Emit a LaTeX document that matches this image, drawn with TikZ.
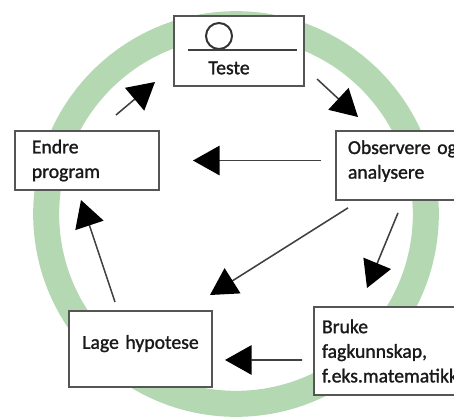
\documentclass[tikz,border=0pt]{standalone}
\usepackage{fontspec}
\setmainfont{Carlito}
\newfontfamily\boxfont{Carlito}[FakeBold=1.3]
\usetikzlibrary{arrows.meta, calc}
\definecolor{ring}{HTML}{B4D8B2}
\definecolor{boxline}{HTML}{555555}

\begin{document}
\begin{tikzpicture}[x=0.025cm, y=-0.025cm,
    box/.style={draw=boxline, line width=1.4pt, fill=white, anchor=north west, align=left, text=black!90, font=\boxfont\fontsize{14}{17.5}\selectfont},
    arr/.style={draw=black!75, line width=1.1pt, -{Triangle[length=19pt, width=21pt, color=black]}}]

      % Fix the frame
      \useasboundingbox (0,0) rectangle (454,417);
      \clip (0,0) rectangle (454,417);

      % Draw the green ring
      \draw[ring, line width=18.5pt] (236,214) circle[radius=135pt];

      % Draw the boxes
      \node[box, minimum width=92.5pt, minimum height=49.8pt] (teste) at (173,15) {};
      \node[box, text width=78.4pt, inner xsep=12pt, minimum height=42pt] (endre) at (14,130) {Endre\\program};
      \node[box, text width=83pt, inner xsep=8.5pt, minimum height=49pt] (obs) at (335,130) {Observere og\\analysere\rule[-8.5pt]{0pt}{8.5pt}};
      \node[box, align=center, text width=93.7pt, inner xsep=4pt, minimum height=54pt] (lage) at (68,310) {Lage hypotese\rule[-10pt]{0pt}{10pt}};
      \node[box, text width=103pt, inner xsep=5.7pt, minimum height=62.6pt] (bruke) at (313,306) {Bruke\\fagkunnskap,\\f.eks.matematikk};

      % Add the ball, the line and the label in the test box
      \node[circle, draw=black!80, line width=1.4pt, minimum size=18.5pt, inner sep=0pt] (ball) at (219,36) {};
      \draw[draw=black!75, line width=1.4pt] (188,50) -- (297,50);
      \node[text=black!90, font=\boxfont\fontsize{14}{17}\selectfont] (testetxt) at (229,68) {Teste};

      % Draw the arrows
      \draw[arr] ($(endre.north)+(29,-15)$) -- ($(teste.south west)+(-18,-5)$);
      \draw[arr] ($(teste.south east)+(12,-8)$) -- ($(obs.north west)+(23,-13)$);
      \draw[arr] ($(obs.west |- endre.east)+(-14,0)$) -- ($(endre.east)+(33,0)$);
      \draw[arr] ($(obs.south west)+(13,7)$) -- ($(lage.north east)+(-3,-15)$);
      \draw[arr] ($(obs.south west)+(63,12)$) -- ($(bruke.north west)+(54,-18)$);
      \draw[arr] ($(bruke.west)+(-11,9)$) -- ($(lage.east)+(12,11)$);
      \draw[arr] ($(lage.north west)+(47,-8)$) -- ($(endre.south west)+(67,9)$);
\end{tikzpicture}
\end{document}
